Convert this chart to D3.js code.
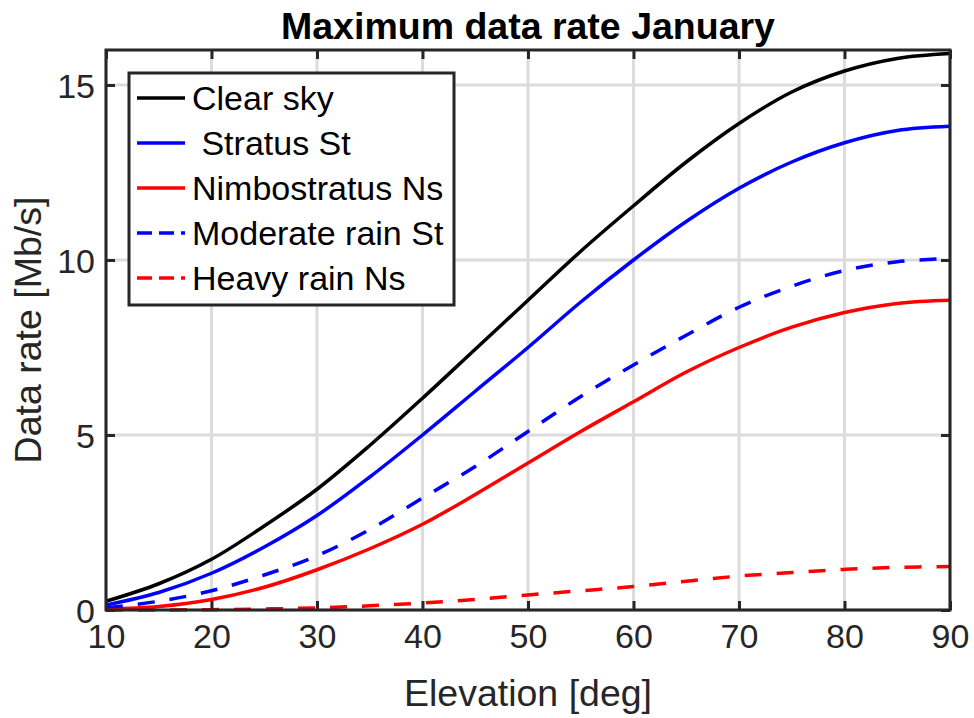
<!DOCTYPE html>
<html><head><meta charset="utf-8">
<script src="https://cdn.jsdelivr.net/npm/d3@7"></script>
<style>
html,body{margin:0;padding:0;background:#fff;}
svg{display:block;font-family:"Liberation Sans",Arial,Helvetica,sans-serif;}
</style></head>
<body>
<svg id="chart" width="974" height="718"></svg>
<script>
const elevation = [10,15,20,25,30,35,40,45,50,55,60,65,70,75,80,85,90];
const clearSky   = [0.25,0.75,1.45,2.4,3.45,4.7,6.05,7.45,8.85,10.25,11.55,12.8,13.9,14.8,15.4,15.76,15.9];
const stratus    = [0.14,0.5,1.05,1.8,2.7,3.8,5.0,6.25,7.5,8.8,10.0,11.1,12.05,12.8,13.35,13.7,13.82];
const nimbo      = [0.03,0.1,0.3,0.65,1.15,1.75,2.45,3.3,4.2,5.1,5.95,6.8,7.5,8.08,8.5,8.76,8.85];
const modRainSt  = [0.06,0.25,0.55,1.0,1.55,2.3,3.2,4.1,5.1,6.1,7.0,7.85,8.65,9.25,9.7,9.95,10.05];
const heavyRainNs= [0,0.0,0.01,0.03,0.06,0.12,0.2,0.3,0.43,0.55,0.67,0.82,0.97,1.07,1.16,1.22,1.24];
const seriesNames = ["Clear sky"," Stratus St","Nimbostratus Ns","Moderate rain St","Heavy rain Ns"];
const xTicks = [10,20,30,40,50,60,70,80,90];
const yTicks = [0,5,10,15];
const titleText = "Maximum data rate January";
const xLabel = "Elevation [deg]";
const yLabel = "Data rate [Mb/s]";

const series = [
  {name: seriesNames[0], values: clearSky, color:"#000000", dash:null},
  {name: seriesNames[1], values: stratus, color:"#0000ff", dash:null},
  {name: seriesNames[2], values: nimbo, color:"#ff0000", dash:null},
  {name: seriesNames[3], values: modRainSt, color:"#0000ff", dash:"17,15"},
  {name: seriesNames[4], values: heavyRainNs, color:"#ff0000", dash:"17,15"}
];

const svg = d3.select("#chart");
const L = 106, R = 950, T = 50, B = 610;
const x = d3.scaleLinear().domain([10,90]).range([L,R]);
const y = d3.scaleLinear().domain([0,16]).range([B,T]);
const axisCol = "#262626";

// grid
const g = svg.append("g");
g.selectAll(".gx").data(xTicks).join("line")
  .attr("x1",d=>x(d)).attr("x2",d=>x(d)).attr("y1",T).attr("y2",B)
  .attr("stroke","#dcdcdc").attr("stroke-width",3);
g.selectAll(".gy").data(yTicks).join("line")
  .attr("x1",L).attr("x2",R).attr("y1",d=>y(d)).attr("y2",d=>y(d))
  .attr("stroke","#dcdcdc").attr("stroke-width",3);

// lines
const line = d3.line().x((d,i)=>x(elevation[i])).y(d=>y(d)).curve(d3.curveCatmullRom.alpha(0.5));
const plot = svg.append("g");
series.forEach(s=>{
  plot.append("path").datum(s.values).attr("d",line)
    .attr("fill","none").attr("stroke",s.color).attr("stroke-width",3.5)
    .attr("stroke-dasharray",s.dash);
});

// axes with inward ticks on all sides
const tickLen = 9;
const fontTick = 34;
const xb = svg.append("g").attr("transform",`translate(0,${B})`)
  .call(d3.axisBottom(x).tickValues(xTicks).tickSizeInner(-tickLen).tickSizeOuter(0).tickPadding(14));
const xt = svg.append("g").attr("transform",`translate(0,${T})`)
  .call(d3.axisTop(x).tickValues(xTicks).tickSizeInner(-tickLen).tickSizeOuter(0).tickFormat(""));
const yl = svg.append("g").attr("transform",`translate(${L},0)`)
  .call(d3.axisLeft(y).tickValues(yTicks).tickSizeInner(-tickLen).tickSizeOuter(0).tickPadding(11));
const yr = svg.append("g").attr("transform",`translate(${R},0)`)
  .call(d3.axisRight(y).tickValues(yTicks).tickSizeInner(-tickLen).tickSizeOuter(0).tickFormat(""));
[xb,xt,yl,yr].forEach(a=>{
  a.select(".domain").remove();
  a.selectAll(".tick line").attr("stroke",axisCol).attr("stroke-width",3);
  a.selectAll(".tick text").attr("fill",axisCol).attr("font-size",fontTick)
    .attr("font-family","'Liberation Sans',Arial,sans-serif");
});
xb.selectAll(".tick text").attr("dy","0.71em");
yl.selectAll(".tick text").attr("dy","0.36em");

// box
svg.append("rect").attr("x",L).attr("y",T).attr("width",R-L).attr("height",B-T)
  .attr("fill","none").attr("stroke",axisCol).attr("stroke-width",3);

// labels
svg.append("text").attr("x",(L+R)/2).attr("y",706).attr("text-anchor","middle")
  .attr("font-size",37.5).attr("fill",axisCol).text(xLabel);
svg.append("text").attr("transform",`translate(41,${(T+B)/2}) rotate(-90)`)
  .attr("text-anchor","middle").attr("font-size",37.5).attr("fill",axisCol).text(yLabel);
svg.append("text").attr("x",(L+R)/2).attr("y",39).attr("text-anchor","middle")
  .attr("font-size",37.5).attr("font-weight","bold").attr("fill","#000").text(titleText);

// legend
const lg = svg.append("g");
lg.append("rect").attr("x",129).attr("y",73).attr("width",325).attr("height",232)
  .attr("fill","#fff").attr("stroke",axisCol).attr("stroke-width",3);
const rowY = d3.scaleLinear().domain([0,4]).range([98,278]);
series.forEach((s,i)=>{
  const yy = rowY(i);
  lg.append("line").attr("x1",137).attr("x2",185).attr("y1",yy).attr("y2",yy)
    .attr("stroke",s.color).attr("stroke-width",3.5).attr("stroke-dasharray",s.dash?"15,7":null);
  lg.append("text").attr("x",192).attr("y",yy).attr("dy","0.36em")
    .attr("font-size",34).attr("fill","#000").attr("xml:space","preserve").style("white-space","pre").text(s.name);
});
</script>
</body></html>
